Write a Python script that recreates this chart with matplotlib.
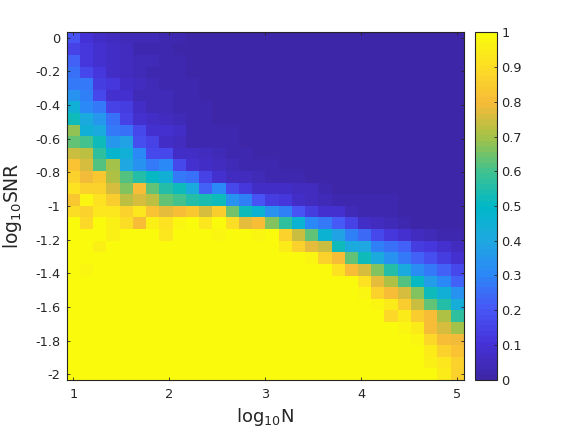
import numpy as np
import matplotlib
matplotlib.use('Agg')
import matplotlib.pyplot as plt
from matplotlib.colors import LinearSegmentedColormap

# valores (filas: SNR de 0 a -2, columnas: N de 1 a 5)
prob = np.array([
    [.19,.10,.07,.06,.04,.04,.04,.03,.02,.01,.01,.01,.01,.01,.01,.01,0,0,0,0,0,0,0,0,0,0,0,0,0,0],
    [.15,.12,.08,.07,.05,.03,.03,.02,.01,.01,.01,.01,.01,.01,.01,0,0,0,0,0,0,0,0,0,0,0,0,0,0,0],
    [.22,.11,.09,.07,.05,.04,.04,.03,.03,.01,.01,.01,.01,.01,0,0,0,0,0,0,0,0,0,0,0,0,0,0,0,0],
    [.26,.17,.11,.07,.05,.04,.03,.03,.03,.01,.01,.01,.01,.01,0,0,0,0,0,0,0,0,0,0,0,0,0,0,0,0],
    [.27,.27,.13,.12,.07,.05,.04,.03,.03,.02,.01,.01,.01,0,0,0,0,0,0,0,0,0,0,0,0,0,0,0,0,0],
    [.34,.29,.17,.09,.08,.04,.04,.04,.03,.03,.01,.01,.01,0,0,0,0,0,0,0,0,0,0,0,0,0,0,0,0,0],
    [.44,.31,.28,.15,.13,.07,.04,.04,.03,.03,.02,.01,.01,.01,0,0,0,0,0,0,0,0,0,0,0,0,0,0,0,0],
    [.52,.41,.35,.25,.15,.08,.07,.05,.04,.03,.02,.01,.01,.01,.01,0,0,0,0,0,0,0,0,0,0,0,0,0,0,0],
    [.68,.45,.41,.28,.26,.16,.08,.08,.07,.03,.03,.02,.02,.01,.01,0,0,0,0,0,0,0,0,0,0,0,0,0,0,0],
    [.64,.60,.53,.35,.38,.18,.15,.07,.05,.03,.03,.02,.02,.01,.01,.01,0,0,0,0,0,0,0,0,0,0,0,0,0,0],
    [.74,.72,.57,.47,.44,.31,.17,.16,.07,.07,.05,.04,.02,.02,.01,.01,.01,0,0,0,0,0,0,0,0,0,0,0,0,0],
    [.82,.76,.62,.70,.40,.34,.27,.31,.16,.08,.07,.05,.04,.03,.02,.03,.01,0,0,0,0,0,0,0,0,0,0,0,0,0],
    [.87,.79,.84,.71,.62,.55,.50,.44,.28,.26,.15,.09,.05,.05,.04,.03,.03,.03,.01,0,0,0,0,0,0,0,0,0,0,0],
    [.92,.87,.86,.76,.67,.80,.63,.56,.53,.42,.22,.31,.16,.11,.07,.07,.07,.05,.05,.03,.01,0,0,0,0,0,0,0,0,0],
    [.84,.98,.92,.85,.72,.75,.73,.63,.60,.55,.54,.52,.34,.29,.20,.13,.12,.07,.05,.04,.03,.03,.03,.03,.03,0,0,0,0,0],
    [.90,.86,.93,.93,.86,.93,.82,.77,.81,.83,.75,.85,.65,.53,.46,.34,.29,.20,.13,.08,.08,.04,.03,.03,.03,.01,0,0,0,0],
    [1,.89,1,.96,.90,.80,.96,.92,.97,1,.93,1,.90,.78,.81,.66,.57,.46,.31,.27,.21,.15,.07,.05,.04,.03,.01,.01,0,0],
    [1,1,1,.96,1,1,1,.93,1,1,1,.98,1,1,.97,1,.86,.74,.63,.46,.38,.29,.24,.16,.11,.09,.05,.04,.03,.03],
    [1,1,.96,1,1,1,1,1,1,1,1,1,1,1,1,1,.95,.86,.78,.74,.53,.42,.40,.29,.25,.23,.13,.11,.08,.05],
    [1,1,1,1,1,1,1,1,1,1,1,1,1,1,1,1,1,1,.97,.87,.81,.63,.52,.42,.34,.28,.23,.18,.13,.08],
    [1,.98,1,1,1,1,1,1,1,1,1,1,1,1,1,1,1,1,1,1,.92,.81,.75,.67,.56,.42,.32,.28,.22,.17],
    [1,1,1,1,1,1,1,1,1,1,1,1,1,1,1,1,1,1,1,1,1,1,.91,.78,.71,.61,.50,.37,.31,.22],
    [1,1,1,1,1,1,1,1,1,1,1,1,1,1,1,1,1,1,1,1,1,1,.97,.87,.81,.76,.67,.53,.44,.34],
    [1,1,1,1,1,1,1,1,1,1,1,1,1,1,1,1,1,1,1,1,1,1,1,.98,.95,.85,.74,.63,.56,.43],
    [1,1,1,1,1,1,1,1,1,1,1,1,1,1,1,1,1,1,1,1,1,1,1,1,.88,.94,.85,.80,.71,.57],
    [1,1,1,1,1,1,1,1,1,1,1,1,1,1,1,1,1,1,1,1,1,1,1,1,1,.97,.95,.80,.75,.70],
    [1,1,1,1,1,1,1,1,1,1,1,1,1,1,1,1,1,1,1,1,1,1,1,1,1,1,.97,.89,.81,.79],
    [1,1,1,1,1,1,1,1,1,1,1,1,1,1,1,1,1,1,1,1,1,1,1,1,1,1,1,.95,.87,.82],
    [1,1,1,1,1,1,1,1,1,1,1,1,1,1,1,1,1,1,1,1,1,1,1,1,1,1,1,.96,.93,.87],
    [1,1,1,1,1,1,1,1,1,1,1,1,1,1,1,1,1,1,1,1,1,1,1,1,1,1,1,1,.95,.86],
])

log_n = np.linspace(1, 5, 30)
log_snr = np.linspace(0, -2, 30)

xticks = [1, 2, 3, 4, 5]
yticks = [0, -0.2, -0.4, -0.6, -0.8, -1, -1.2, -1.4, -1.6, -1.8, -2]
ytick_labels = ['0', '-0.2', '-0.4', '-0.6', '-0.8', '-1', '-1.2', '-1.4', '-1.6', '-1.8', '-2']
cbar_ticks = [0, .1, .2, .3, .4, .5, .6, .7, .8, .9, 1]
cbar_labels = ['0', '0.1', '0.2', '0.3', '0.4', '0.5', '0.6', '0.7', '0.8', '0.9', '1']

# parecido a parula
colores = [(.24, .15, .66), (.27, .20, .85), (.28, .34, .97), (.17, .53, .97),
           (.12, .66, .88), (0, .72, .78), (.25, .76, .56), (.64, .76, .28),
           (.97, .73, .22), (.99, .86, .15), (.98, .98, .05)]
parula = LinearSegmentedColormap.from_list('parula', colores, N=64)

gris = '#262626'
W, H = 577, 433

fig = plt.figure(figsize=(W / 100, H / 100), dpi=100)
ax = fig.add_axes([66.7 / W, 1 - 380 / H, 397.2 / W, 348.3 / H])
malla = ax.pcolormesh(log_n, log_snr, prob, cmap=parula, vmin=0, vmax=1, shading='nearest')

ax.set_xticks(xticks)
ax.set_xticklabels([str(t) for t in xticks])
ax.set_yticks(yticks)
ax.set_yticklabels(ytick_labels)
ax.tick_params(direction='in', length=2.5, width=.6, labelsize=9.3, colors=gris, top=True, right=True)
ax.tick_params(axis='x', pad=6)
ax.tick_params(axis='y', pad=4.5)
for s in ax.spines.values():
    s.set_color(gris)
    s.set_linewidth(.8)

ax.set_xlabel(r'$\mathregular{log_{10}N}$', fontsize=13, color=gris, labelpad=3)
ax.set_ylabel(r'$\mathregular{log_{10}SNR}$', fontsize=13.5, color=gris, labelpad=8)

# barra de color
cax = fig.add_axes([475.3 / W, 1 - 379.7 / H, 21.4 / W, 347.4 / H])
cb = fig.colorbar(malla, cax=cax)
cb.set_ticks(cbar_ticks)
cb.set_ticklabels(cbar_labels)
cb.ax.tick_params(direction='in', length=2.5, width=.6, labelsize=9.3, colors=gris, pad=3.5)
cb.outline.set_edgecolor(gris)
cb.outline.set_linewidth(.8)
cb.ax.minorticks_off()

fig.savefig('out.png', dpi=100)
